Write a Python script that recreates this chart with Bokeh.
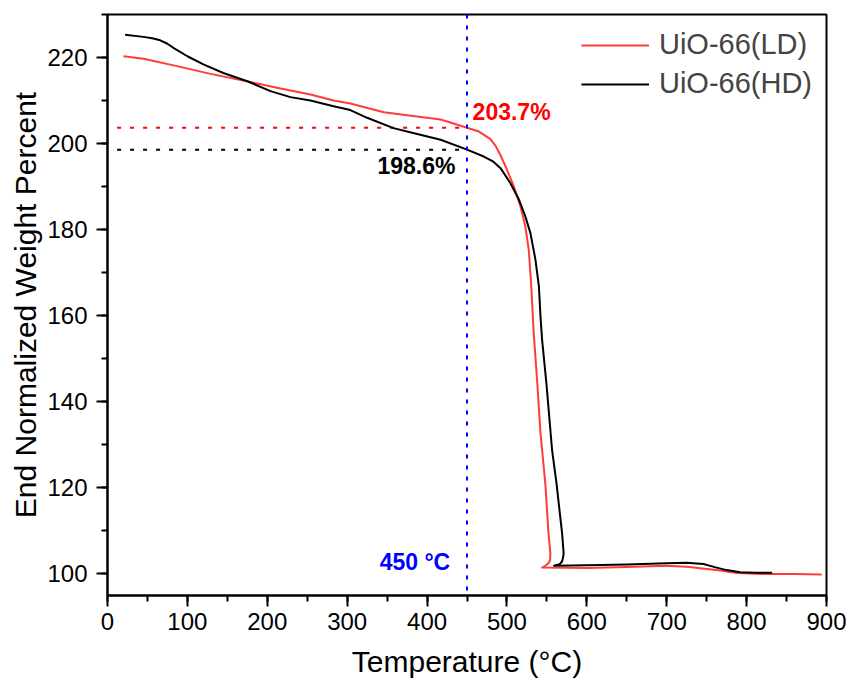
from bokeh.plotting import figure
from bokeh.models import Range1d, SingleIntervalTicker, Legend, LegendItem, Label, Span
from bokeh.embed import file_html
from bokeh.resources import INLINE

# TGA curves: temperature (°C) vs end-normalized weight percent
ld_temp = [20, 45, 87, 129, 179, 212, 254, 283, 304, 346, 380, 417, 450, 465,
           479, 486, 492, 498, 508.5, 517, 523, 527.3, 530.2, 533.5, 538, 542,
           548, 552, 554.4, 554, 552, 548, 544, 600, 650, 700, 725, 745, 767,
           788, 820, 860, 894]
ld_weight = [220.3, 219.7, 218.0, 216.2, 214.3, 213.0, 211.4, 210.0, 209.3,
             207.3, 206.5, 205.6, 203.7, 202.8, 201.1, 199.4, 197.3, 194.8,
             190.1, 185.4, 180.8, 175.3, 167.6, 156.0, 144.3, 132.7, 121.1,
             109.5, 104.8, 103.2, 102.5, 101.9, 101.5, 101.4, 101.6, 101.9,
             101.7, 101.3, 100.8, 100.2, 100.0, 100.0, 99.9]

hd_temp = [22, 45, 56, 66, 75, 83, 100, 120, 145, 175, 204, 229, 254, 283,
           304, 325, 358, 380, 417, 450, 471, 483, 492, 504, 515, 523, 529.4,
           535.7, 540, 542, 544, 549.4, 556.5, 562, 569, 571, 570, 569, 566,
           562.5, 559, 600, 650, 700, 725, 746, 760, 775, 792, 810, 832]
hd_weight = [225.3, 224.8, 224.5, 224.0, 223.2, 222.2, 220.3, 218.4, 216.4,
             214.5, 212.2, 210.8, 210.0, 208.7, 207.8, 206.0, 203.6, 202.6,
             200.9, 198.6, 197.0, 195.8, 194.3, 190.9, 187.0, 183.1, 179.2,
             173.0, 166.8, 159.8, 154.4, 144.3, 128.8, 121.1, 109.5, 104.8,
             103.6, 102.9, 102.3, 102.1, 101.9, 102.0, 102.2, 102.5, 102.6,
             102.3, 101.6, 100.9, 100.4, 100.3, 100.3]

series_names = ["UiO-66(LD)", "UiO-66(HD)"]
marker_temp = 450
ld_at_marker = 203.7
hd_at_marker = 198.6

FONT = "Liberation Sans"
RED_LINE = "#FF3B3B"
RED = "#FF0000"
BLUE = "#0000FF"

p = figure(width=849, height=689, output_backend="svg", toolbar_location=None,
           x_range=Range1d(0, 900), y_range=Range1d(95, 230),
           min_border_left=107, min_border_right=23, min_border_top=14,
           min_border_bottom=94)

p.xgrid.visible = False
p.ygrid.visible = False
p.outline_line_color = "black"
p.outline_line_width = 2
p.outline_line_alpha = 1
p.background_fill_color = "white"
p.border_fill_color = "white"

p.xaxis.ticker = SingleIntervalTicker(interval=100, num_minor_ticks=2)
p.yaxis.ticker = SingleIntervalTicker(interval=20, num_minor_ticks=2)

for ax in (p.xaxis[0], p.yaxis[0]):
    ax.axis_line_width = 2
    ax.major_tick_line_width = 2
    ax.minor_tick_line_width = 2
    ax.major_tick_out = 11
    ax.major_tick_in = 0
    ax.minor_tick_out = 6
    ax.minor_tick_in = 0
    ax.major_label_text_font = FONT
    ax.major_label_text_font_size = "24px"
    ax.major_label_text_color = "black"
    ax.axis_label_text_font = FONT
    ax.axis_label_text_font_size = "30px"
    ax.axis_label_text_font_style = "normal"
    ax.axis_label_text_color = "black"

p.xaxis.axis_label = "Temperature (°C)"
p.yaxis.axis_label = "End Normalized Weight Percent"
p.xaxis.major_label_standoff = 6
p.xaxis.axis_label_standoff = 12
p.yaxis.major_label_standoff = 9
p.yaxis.axis_label_standoff = 2

# reference guides at 450 °C
p.add_layout(Span(location=marker_temp, dimension="height", line_color=BLUE,
                  line_width=2, line_dash="4 7"))
p.line([12, marker_temp], [ld_at_marker, ld_at_marker], line_color=RED,
       line_width=2, line_dash="4 9")
p.line([12, marker_temp], [hd_at_marker, hd_at_marker], line_color="black",
       line_width=2, line_dash="4 9")

r_ld = p.line(ld_temp, ld_weight, line_color=RED_LINE, line_width=2,
              line_join="round")
r_hd = p.line(hd_temp, hd_weight, line_color="black", line_width=2,
              line_join="round")

legend = Legend(items=[LegendItem(label=series_names[0], renderers=[r_ld]),
                       LegendItem(label=series_names[1], renderers=[r_hd])],
                location="top_right", border_line_color=None,
                background_fill_alpha=0, label_text_font=FONT,
                label_text_font_size="29px", glyph_width=68, glyph_height=30,
                label_standoff=10, spacing=6, padding=14, margin=14)
p.add_layout(legend)

p.add_layout(Label(x=457, y=207.4, text=f"{ld_at_marker:.1f}%",
                   text_font=FONT, text_font_size="23px",
                   text_font_style="bold", text_color=RED,
                   text_baseline="middle", text_align="left"))
p.add_layout(Label(x=435.5, y=194.7, text=f"{hd_at_marker:.1f}%",
                   text_font=FONT, text_font_size="23px",
                   text_font_style="bold", text_color="black",
                   text_baseline="middle", text_align="right"))
p.add_layout(Label(x=429, y=102.7, text=f"{marker_temp} °C",
                   text_font=FONT, text_font_size="23px",
                   text_font_style="bold", text_color=BLUE,
                   text_baseline="middle", text_align="right"))

open("out.html", "w").write(file_html(p, INLINE))
